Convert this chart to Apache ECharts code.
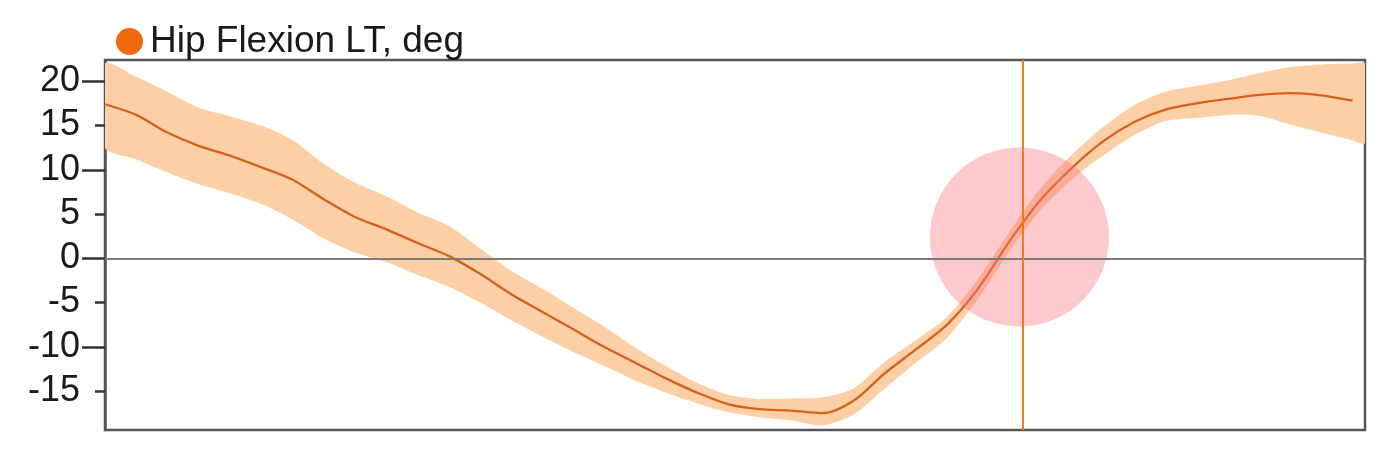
<!DOCTYPE html>
<html>
<head>
<meta charset="utf-8">
<script src="https://cdn.jsdelivr.net/npm/echarts@6/dist/echarts.min.js"></script>
<style>html,body{margin:0;padding:0;background:#fff;}#c{width:1392px;height:452px;}</style>
</head>
<body>
<div id="c"></div>
<script>
// gait cycle position (%)
var xPct = [0,2.5,5,7.5,10,12.5,15,17.5,20,22.5,25,27.5,30,32.5,35,37.5,40,42.5,45,47.5,50,52.5,55,57.5,60,62.5,65,67.5,70,72.5,75,77.5,80,82.5,85,87.5,90,92.5,95,97.5,100,101];
var meanVals = [17.4,16.2,14.2,12.7,11.6,10.3,8.9,6.7,4.7,3.3,1.75,0.3,-1.7,-4.0,-6.0,-8.0,-10.0,-11.8,-13.6,-15.2,-16.5,-17.05,-17.2,-17.5,-16.1,-13.0,-10.3,-7.5,-3.4,1.9,6.6,10.2,13.2,15.4,16.8,17.5,18.0,18.45,18.65,18.4,17.8];
var upperVals = [22.0,20.5,18.8,17.0,16.05,15.0,13.4,10.7,8.55,7.05,5.2,3.7,1.2,-1.35,-3.4,-5.55,-7.7,-10.1,-12.2,-14.1,-15.45,-15.9,-15.85,-15.7,-14.7,-11.7,-9.25,-6.6,-2.3,3.0,7.95,11.7,14.8,17.3,18.8,19.45,20.1,20.9,21.6,21.9,22.0,22.0];
var lowerVals = [12.5,11.2,9.7,8.4,7.35,6.15,4.4,2.25,0.65,-0.4,-1.85,-3.15,-4.95,-6.95,-8.8,-10.55,-12.15,-13.8,-15.2,-16.4,-17.4,-17.95,-18.3,-18.9,-17.65,-14.7,-11.8,-9.0,-4.55,0.8,5.45,8.9,11.6,13.9,15.5,15.85,16.2,16.1,15.1,14.2,13.3,13.0];
var yLabelTicks = [-15,-10,-5,0,5,10,15,20];
var yMajorTicks = [-10,0,10,20];
var yMinorTicks = [-15,-5,5,15];
var markerX = 73.6;          // vertical event line
var highlightPoint = [73.3, 2.4]; // highlighted circle
var seriesName = 'Hip Flexion LT, deg';

var FONT = '"Liberation Sans", Arial, sans-serif';
var bandData = xPct.map(function(x,i){return [x, lowerVals[i], upperVals[i]];});
var meanData = meanVals.map(function(v,i){return [xPct[i], v];});

function renderBand(params, api){
  if (params.dataIndex !== 0) return null;
  var pts = [];
  for (var i = 0; i < bandData.length; i++) pts.push(api.coord([bandData[i][0], bandData[i][2]]));
  for (var j = bandData.length - 1; j >= 0; j--) pts.push(api.coord([bandData[j][0], bandData[j][1]]));
  return {type: 'polygon', shape: {points: pts, smooth: 0.25}, style: {fill: '#fccfa6', stroke: null}};
}

var chart = echarts.init(document.getElementById('c'), null, {renderer:'canvas'});
chart.setOption({
  animation: false,
  backgroundColor: '#fff',
  textStyle: {fontFamily: FONT},
  legend: {
    left: 111, top: 18, itemGap: 10,
    itemWidth: 27, itemHeight: 27, icon: 'circle',
    textStyle: {fontSize: 37, color: '#1a1a1a', fontFamily: FONT, padding:[0,0,0,2]},
    data: [{name: seriesName, icon: 'circle', itemStyle: {color: '#f2680c'}}],
    selectedMode: false
  },
  grid: {left: 105, right: 27, top: 60, bottom: 22, show: true, borderColor: '#555', borderWidth: 2.5, backgroundColor: 'transparent'},
  xAxis: {type: 'value', min: 0, max: 101, show: false},
  yAxis: [{
    type: 'value', min: -19.4, max: 22.4, position: 'left',
    axisLine: {show: true, lineStyle: {color: '#555', width: 2.5}},
    axisTick: {show: true, length: 23, customValues: yMajorTicks, lineStyle: {color: '#333', width: 2.5}},
    axisLabel: {show: true, customValues: yLabelTicks, margin: 25, fontSize: 36, color: '#1a1a1a', fontFamily: FONT},
    splitLine: {show: false}
  },{
    type: 'value', min: -19.4, max: 22.4, position: 'left',
    axisLine: {show: false},
    axisTick: {show: true, length: 10, customValues: yMinorTicks, lineStyle: {color: '#333', width: 2.5}},
    axisLabel: {show: false},
    splitLine: {show: false}
  }],
  series: [{
    name: 'band', type: 'custom', data: bandData, renderItem: renderBand, clip: true,
    encode: {x: 0, y: [1, 2]}, silent: true, z: 1
  },{
    name: seriesName, type: 'line', data: meanData, symbol: 'none', smooth: 0.3,
    lineStyle: {color: '#d6611a', width: 2.3}, itemStyle: {color: '#f2680c'}, z: 3,
    markLine: {
      silent: true, symbol: 'none', label: {show: false},
      data: [
        {yAxis: 0, lineStyle: {color: '#7a7a7a', width: 1.8, type: 'solid'}},
        {xAxis: markerX, lineStyle: {color: '#f07a1c', width: 2, type: 'solid'}}
      ]
    }
  },{
    name: 'highlight', type: 'scatter', data: [highlightPoint], symbol: 'circle', symbolSize: 179,
    itemStyle: {color: 'rgba(247,120,130,0.5)'}, silent: true, z: 4
  }]
});
</script>
</body>
</html>
